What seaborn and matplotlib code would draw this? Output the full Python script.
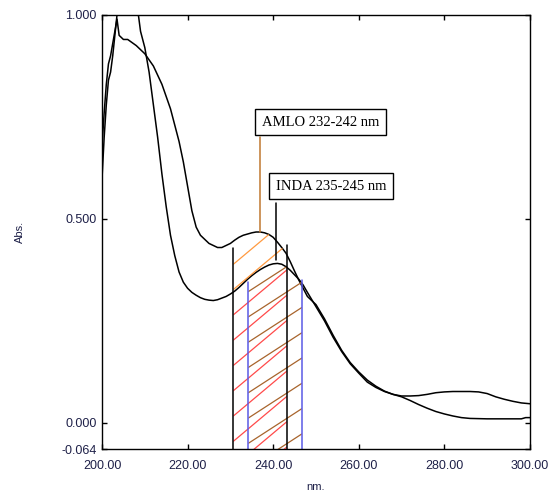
import numpy as np
import pandas as pd
import matplotlib
matplotlib.use("Agg")
import matplotlib.pyplot as plt
import seaborn as sns

# absorbance spectra
amlo_nm = [200.0, 200.5, 201.0, 201.5, 202.0, 202.5, 203.0, 203.5, 204.0, 205.0,
           206.0, 208.0, 210.0, 212.0, 214.0, 216.0, 217.0, 218.0, 219.0, 220.0,
           221.0, 222.0, 223.0, 224.0, 225.0, 226.0, 227.0, 228.0, 229.0, 230.0,
           231.0, 232.0, 233.0, 234.0, 235.0, 236.0, 237.0, 238.0, 239.0, 240.0,
           241.0, 242.0, 243.0, 244.0, 245.0, 246.0, 247.0, 248.0, 250.0, 252.0,
           254.0, 256.0, 258.0, 260.0, 262.0, 264.0, 266.0, 268.0, 270.0, 272.0,
           274.0, 276.0, 278.0, 280.0, 282.0, 284.0, 286.0, 290.0, 295.0, 298.0,
           299.0, 300.0]
amlo_abs = [0.68, 0.76, 0.83, 0.88, 0.90, 0.93, 0.96, 0.99, 0.95, 0.94,
            0.94, 0.925, 0.905, 0.875, 0.83, 0.77, 0.73, 0.69, 0.64, 0.58,
            0.52, 0.48, 0.46, 0.45, 0.44, 0.435, 0.43, 0.43, 0.435, 0.44,
            0.448, 0.455, 0.46, 0.463, 0.466, 0.468, 0.468, 0.466, 0.462, 0.455,
            0.443, 0.43, 0.416, 0.395, 0.372, 0.35, 0.33, 0.31, 0.29, 0.255,
            0.215, 0.178, 0.148, 0.125, 0.105, 0.09, 0.078, 0.07, 0.064, 0.055,
            0.045, 0.036, 0.028, 0.022, 0.017, 0.013, 0.011, 0.01, 0.01, 0.01,
            0.013, 0.013]

inda_nm = [200.0, 200.5, 201.0, 201.5, 202.0, 202.5, 203.0, 203.5, 204.0, 205.0,
           206.0, 207.0, 208.0, 208.5, 209.0, 210.0, 211.0, 212.0, 213.0, 214.0,
           215.0, 216.0, 217.0, 218.0, 219.0, 220.0, 221.0, 222.0, 223.0, 224.0,
           225.0, 226.0, 227.0, 228.0, 229.0, 230.0, 231.0, 232.0, 233.0, 234.0,
           235.0, 236.0, 237.0, 238.0, 239.0, 240.0, 241.0, 242.0, 243.0, 244.0,
           245.0, 246.0, 247.0, 248.0, 250.0, 252.0, 254.0, 256.0, 258.0, 260.0,
           262.0, 264.0, 266.0, 268.0, 270.0, 272.0, 274.0, 276.0, 278.0, 280.0,
           282.0, 284.0, 286.0, 288.0, 290.0, 292.0, 294.0, 296.0, 298.0, 300.0]
inda_abs = [0.60, 0.70, 0.78, 0.84, 0.86, 0.90, 0.95, 1.0, 1.02, 1.06,
            1.08, 1.07, 1.03, 1.0, 0.96, 0.92, 0.86, 0.78, 0.70, 0.61,
            0.53, 0.46, 0.41, 0.37, 0.345, 0.33, 0.32, 0.313, 0.307, 0.303,
            0.301, 0.30, 0.302, 0.306, 0.31, 0.316, 0.323, 0.332, 0.342, 0.352,
            0.361, 0.369, 0.376, 0.382, 0.387, 0.39, 0.391, 0.389, 0.383, 0.374,
            0.363, 0.352, 0.338, 0.32, 0.285, 0.25, 0.21, 0.175, 0.145, 0.122,
            0.10, 0.087, 0.077, 0.07, 0.066, 0.066, 0.067, 0.07, 0.074, 0.076,
            0.077, 0.077, 0.077, 0.076, 0.072, 0.064, 0.058, 0.053, 0.049, 0.047]

# integration bands as drawn (nm) and where their edge lines stop (Abs)
amlo_band = [230.7, 243.2]
amlo_band_top = [0.43, 0.436]
inda_band = [234.2, 246.7]
inda_band_top = [0.345, 0.35]

x_ticks = [200, 220, 240, 260, 280, 300]
y_ticks = [-0.064, 0.0, 0.5, 1.0]
y_min, y_max = -0.064, 1.0

sns.set_theme(style="ticks")
plt.rcParams["font.family"] = ["Liberation Sans", "DejaVu Sans"]

df_amlo = pd.DataFrame({"nm": amlo_nm, "abs": amlo_abs})
df_inda = pd.DataFrame({"nm": inda_nm, "abs": inda_abs})

fig = plt.figure(figsize=(5.5, 4.93), dpi=100)
ax = fig.add_axes([0.1855, 0.0892, 0.778, 0.8804])

sns.lineplot(data=df_amlo, x="nm", y="abs", color="black", lw=1.1, ax=ax, sort=False)
sns.lineplot(data=df_inda, x="nm", y="abs", color="black", lw=1.1, ax=ax, sort=False)


def band_region(x_nm, y_abs, lo, hi):
    # curve samples inside a band, with the band edges added
    x = np.asarray(x_nm)
    y = np.asarray(y_abs)
    inside = (x > lo) & (x < hi)
    xs = np.concatenate([[lo], x[inside], [hi]])
    ys = np.interp(xs, x, y)
    return xs, ys


def hatch(clip_poly, lo, hi, y0, step, slope, color, kmin=-8, kmax=6):
    path = clip_poly.get_paths()[0]
    xs = np.array([lo, hi])
    for k in range(kmin, kmax):
        ln, = ax.plot(xs, y0 + k * step + slope * (xs - lo), color=color, lw=0.9)
        ln.set_clip_path(path, ax.transData)


# AMLO band: red under the INDA curve, orange between the two curves
xa, ya_amlo = band_region(amlo_nm, amlo_abs, *amlo_band)
ya_inda = np.interp(xa, inda_nm, inda_abs)
poly_red = ax.fill_between(xa, y_min, ya_inda, facecolor="none", lw=0)
poly_orange = ax.fill_between(xa, ya_inda, ya_amlo, facecolor="none", lw=0)
hatch(poly_red, *amlo_band, 0.265, 0.062, 0.0088, "#ff4a4a")
hatch(poly_orange, *amlo_band, 0.265, 0.062, 0.0088, "#ff9a40")

# INDA band: brown under the INDA curve
xi, yi = band_region(inda_nm, inda_abs, *inda_band)
poly_brown = ax.fill_between(xi, y_min, yi, facecolor="none", lw=0)
hatch(poly_brown, *inda_band, 0.26, 0.062, 0.0068, "#a8642c")

# band edge lines
for x, top in zip(amlo_band, amlo_band_top):
    ax.plot([x, x], [y_min, top], color="black", lw=1.1)
for x, top in zip(inda_band, inda_band_top):
    ax.plot([x, x], [y_min, top], color="#5a5ae6", lw=1.1)

# labels with leader lines
ax.plot([236.9, 236.9], [0.468, 0.70], color="#c07830", lw=1.1)
ax.plot([240.7, 240.7], [0.40, 0.54], color="black", lw=1.1)
box = dict(boxstyle="square,pad=0.45", facecolor="white", edgecolor="black", lw=1)
ax.text(237.3, 0.737, "AMLO 232-242 nm", family=["Liberation Serif"], fontsize=10.5,
        ha="left", va="center", bbox=box, color="black")
ax.text(240.6, 0.580, "INDA 235-245 nm", family=["Liberation Serif"], fontsize=10.5,
        ha="left", va="center", bbox=box, color="black")

ax.set_xlim(200, 300)
ax.set_ylim(y_min, y_max)
ax.set_xticks(x_ticks)
ax.set_xticklabels(["%.2f" % v for v in x_ticks])
ax.set_yticks(y_ticks)
ax.set_yticklabels(["%.3f" % v for v in y_ticks])
label_color = "#1e2048"
ax.tick_params(direction="in", top=True, right=True, length=3.5, width=1,
               colors="black", labelcolor=label_color, labelsize=9)
ax.tick_params(axis="x", pad=8)
ax.tick_params(axis="y", pad=4)
for s in ax.spines.values():
    s.set_visible(True)
    s.set_color("black")
    s.set_linewidth(1.0)
ax.set_xlabel("nm.", fontsize=8, color=label_color, labelpad=7)
ax.set_ylabel("Abs.", fontsize=8, color=label_color, labelpad=26)

fig.savefig("out.png", dpi=100)
